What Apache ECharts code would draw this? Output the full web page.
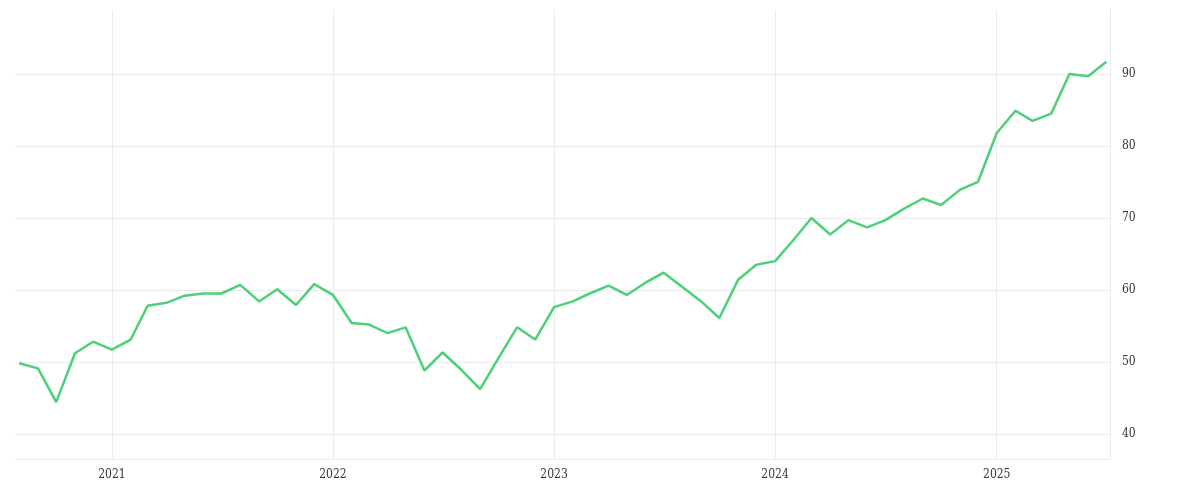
<!DOCTYPE html>
<html><head><meta charset="utf-8">
<script src="https://cdn.jsdelivr.net/npm/echarts@6/dist/echarts.min.js"></script>
<style>html,body{margin:0;padding:0;background:#fff}#c{width:1200px;height:500px}</style>
</head><body><div id="c"></div>
<script>
const months = [];
for (let y = 2020; y <= 2025; y++) for (let m = 1; m <= 12; m++) {
  if ((y === 2020 && m < 8) || (y === 2025 && m > 7)) continue;
  months.push(y + '-' + String(m).padStart(2, '0') + '-01');
}
const values = [49.8,49.1,44.4,51.2,52.8,
  51.7,53.1,57.8,58.2,59.2,59.5,59.5,60.7,58.4,60.1,57.9,60.8,
  59.3,55.4,55.2,54.0,54.8,48.8,51.3,48.9,46.2,50.5,54.8,53.1,
  57.6,58.4,59.5,60.6,59.3,61.0,62.4,60.4,58.4,56.1,61.4,63.5,
  64.0,67.0,70.0,67.7,69.7,68.7,69.7,71.3,72.7,71.8,73.9,75.0,
  81.8,84.9,83.5,84.5,90.0,89.7,91.7];
const yTicks = [40,50,60,70,80,90];
const xTicks = ['2021-01-01','2022-01-01','2023-01-01','2024-01-01','2025-01-01'];
const ts = d => Date.UTC(+d.slice(0,4), +d.slice(5,7)-1, +d.slice(8,10));
const xTickTs = xTicks.map(ts);
const chart = echarts.init(document.getElementById('c'));
chart.setOption({
  animation:false,
  grid:{left:15,right:90,top:10,bottom:41,containLabel:false},
  xAxis:{type:'value',min:ts('2020-07-25'),max:ts('2025-07-07'),
    axisLine:{show:true,lineStyle:{color:'#ebebeb'}},axisTick:{show:false,customValues:xTickTs},
    axisLabel:{customValues:xTickTs,formatter:v=>String(new Date(v).getUTCFullYear()),color:'#333',fontFamily:'DejaVu Serif Condensed, serif',fontSize:12,margin:10},
    splitLine:{show:true,lineStyle:{color:'#ebebeb'}}},
  yAxis:{type:'value',position:'right',min:36.5,max:98.9,
    axisLine:{show:true,lineStyle:{color:'#ebebeb'}},axisTick:{show:false,customValues:yTicks},
    axisLabel:{customValues:yTicks,color:'#333',fontFamily:'DejaVu Serif Condensed, serif',fontSize:12,margin:12},
    splitLine:{show:true,lineStyle:{color:'#ebebeb'}}},
  series:[{type:'line',data:months.map((d,i)=>[ts(d),values[i]]),showSymbol:false,
    lineStyle:{color:'#4cd17a',width:2.5},itemStyle:{color:'#4cd17a'}}]
});
</script></body></html>
